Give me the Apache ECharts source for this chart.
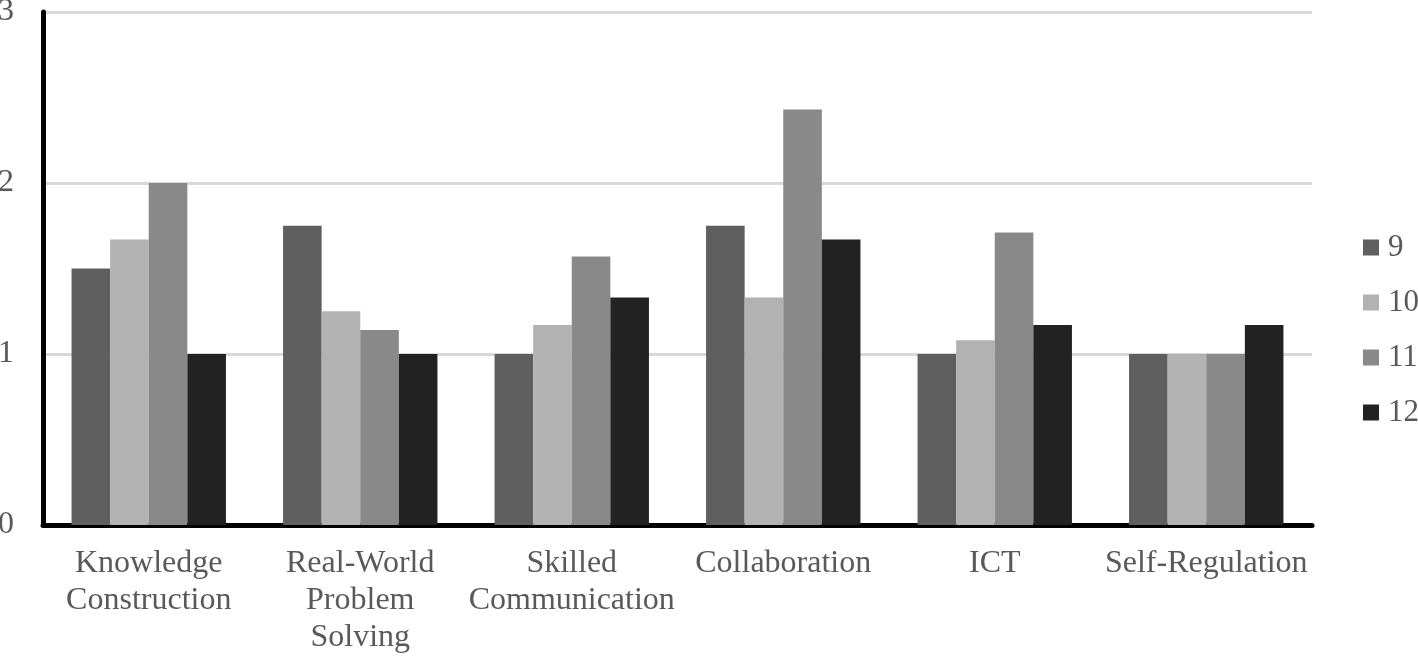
<!DOCTYPE html>
<html>
<head>
<meta charset="utf-8">
<script src="https://cdn.jsdelivr.net/npm/echarts@6/dist/echarts.min.js"></script>
<style>html,body{margin:0;padding:0;background:#fff}#c{width:1418px;height:656px}</style>
</head>
<body>
<div id="c"></div>
<script>
const categories = ['Knowledge\nConstruction', 'Real-World\nProblem\nSolving', 'Skilled\nCommunication', 'Collaboration', 'ICT', 'Self-Regulation'];
const seriesNames = ['9', '10', '11', '12'];
const grade9 = [1.5, 1.75, 1.0, 1.75, 1.0, 1.0];
const grade10 = [1.67, 1.25, 1.17, 1.33, 1.08, 1.0];
const grade11 = [2.0, 1.14, 1.57, 2.43, 1.71, 1.0];
const grade12 = [1.0, 1.0, 1.33, 1.67, 1.17, 1.17];
const colors = ['#5f5f5f', '#b2b2b2', '#898989', '#222222'];
const yTicks = [0, 1, 2, 3];

const chart = echarts.init(document.getElementById('c'));
const font = '"Liberation Serif", "Times New Roman", serif';
const data = [grade9, grade10, grade11, grade12];
chart.setOption({
  animation: false,
  textStyle: { fontFamily: font },
  grid: { left: 43, right: 106, top: 12, bottom: 131, containLabel: false, outerBoundsMode: 'none' },
  legend: {
    orient: 'vertical', left: 1363, top: 232, padding: 0,
    itemWidth: 16, itemHeight: 16, itemGap: 24,
    icon: 'rect',
    textStyle: { fontFamily: font, fontSize: 31, lineHeight: 26, color: '#595959', padding: [0, 0, 0, 4] },
    data: seriesNames
  },
  xAxis: {
    type: 'category', data: categories,
    axisLine: { lineStyle: { color: '#000', width: 5 } },
    axisTick: { show: false },
    axisLabel: { fontFamily: font, fontSize: 32, color: '#595959', lineHeight: 37, margin: 20, interval: 0 }
  },
  yAxis: {
    type: 'value', min: 0, max: 3, interval: 1,
    axisLine: { show: true, lineStyle: { color: '#000', width: 5 } },
    axisTick: { show: false },
    splitLine: { lineStyle: { color: '#d9d9d9', width: 3 } },
    axisLabel: { fontFamily: font, fontSize: 32, color: '#595959', margin: 29,
      formatter: v => yTicks.includes(v) ? String(v) : '' }
  },
  series: seriesNames.map((n, i) => ({
    name: n, type: 'bar', data: data[i],
    barGap: '0%', barCategoryGap: '27%',
    itemStyle: { color: colors[i] }
  }))
});
</script>
</body>
</html>
